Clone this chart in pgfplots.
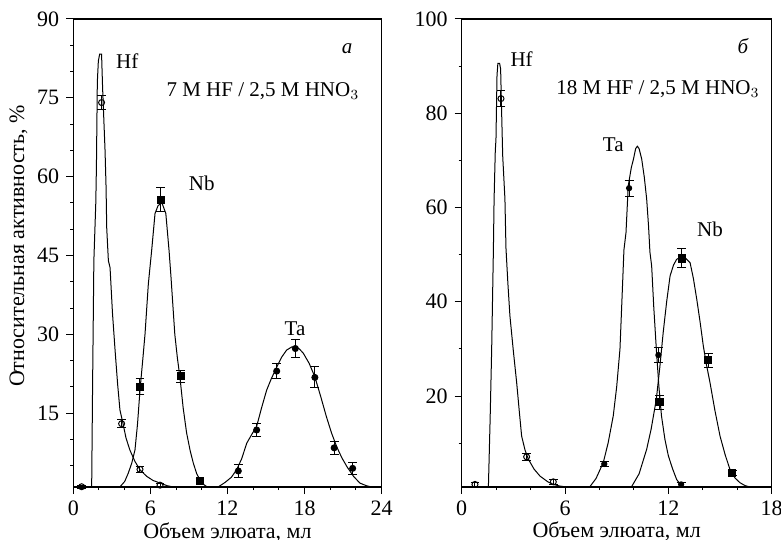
\documentclass[border=0pt]{standalone}
\usepackage{fontspec}
\setmainfont{Liberation Serif}
\usepackage{pgfplots}
\pgfplotsset{compat=1.18}

\tikzset{lab/.style={font=\fontsize{10.5}{12}\selectfont}}
\pgfplotsset{
  elu/.style={
    scale only axis,
    axis line style={line width=0.6pt},
    tick pos=left, tick align=outside,
    major tick length=3.5pt, minor tick length=1.6pt,
    every tick/.style={black, line width=0.5pt},
    tick label style={font=\fontsize{11}{13}\selectfont},
    /pgf/number format/assume math mode=true,
    label style={font=\fontsize{11}{13}\selectfont},
    xlabel style={at={(axis description cs:0.5,0)}, anchor=base, yshift=-25.5pt},
    clip=false,
  },
  curve/.style={black, line width=0.5pt, no marks},
  pts/.style={black, only marks, line width=0.5pt,
    error bars/y dir=both, error bars/y explicit,
    error bars/error bar style={line width=0.5pt},
    error bars/error mark options={rotate=90, mark size=2.2pt, line width=0.5pt}},
}

\begin{document}
\begin{tikzpicture}

% ---- panel a ----
\begin{axis}[elu, at={(0,0)}, anchor=south west,
    width=154.2pt, height=234pt,
    xmin=0, xmax=24, ymin=0.95, ymax=90,
    xtick={0,6,12,18,24}, minor xtick={2,4,8,10,14,16,20,22},
    ytick={15,30,45,60,75,90}, minor ytick={5,10,20,25,35,40,50,55,65,70,80,85},
    xlabel={Объем элюата, мл},
    ylabel={Относительная активность, \%},
    ylabel style={at={(axis description cs:-0.178,0.515)}, anchor=center},
]
% Hf
\addplot[curve] coordinates {
 (0,0.95)(1.3,0.95)(1.43,1)(1.5,20)(1.6,44)(1.75,55)(1.8,62)(1.87,78)(1.95,82)
 (2.05,83.3)(2.2,83.3)(2.28,76.9)(2.39,70)(2.47,65)(2.55,58)(2.6,50.3)(2.73,44)
 (2.86,42.7)(3.05,34)(3.25,27)(3.45,20.5)(3.63,15.6)(3.87,13)(4.1,10.3)(4.4,8)
 (4.8,5.8)(5.2,4.2)(5.7,3)(6.2,2.2)(6.75,1.7)(7.3,1.2)(7.8,0.95)};
% Nb
\addplot[curve] coordinates {
 (3.5,0.95)(3.64,1)(4.0,2)(4.28,3.6)(4.55,5.5)(4.8,8)(5.0,13)(5.19,19.4)(5.4,25)
 (5.58,30)(5.84,39.6)(6.1,46)(6.36,53)(6.6,54.5)(6.9,55)(7.2,53)(7.45,46)(7.6,41)
 (7.9,30)(8.1,25.5)(8.3,21.8)(8.55,16)(8.82,11.2)(9.1,7.8)(9.34,5.5)(9.6,3.5)
 (9.86,2.3)(10.1,1.5)(10.4,1)(10.6,0.95)};
% Ta
\addplot[curve] coordinates {
 (11.0,0.95)(11.3,1)(11.8,1.8)(12.3,2.8)(12.7,4.2)(13.1,6.3)(13.5,9.3)(13.9,11)
 (14.27,12.5)(14.65,16)(15.05,19.4)(15.4,21.5)(15.8,23.6)(16.2,25.6)(16.6,27)
 (17.0,27.6)(17.3,27.7)(17.6,27.2)(17.9,26.4)(18.35,24.5)(18.8,21.9)(19.25,18.2)
 (19.7,14.3)(20.1,11.2)(20.5,8.6)(20.9,6.5)(21.3,4.8)(21.8,3.0)(22.3,1.7)
 (22.8,1.2)(23.2,0.95)};
% points
\addplot[pts, mark=o, mark size=1.5pt] coordinates {
 (0.65,1)+-(0,0.3) (2.2,74.1)+-(0,1.4) (3.76,13.0)+-(0,0.8)
 (5.19,4.3)+-(0,0.5) (6.75,1.3)+-(0,0.3)};
\addplot[pts, mark=square*, mark size=1.8pt] coordinates {
 (5.19,20.0)+-(0,1.5) (6.8,55.6)+-(0,2.3) (8.36,22.0)+-(0,1.2) (9.86,2.1)+-(0,0.5)};
\addplot[pts, mark=*, mark size=1.5pt] coordinates {
 (12.84,4.0)+-(0,1.2) (14.27,11.8)+-(0,1.2) (15.83,23.0)+-(0,1.5)
 (17.28,27.3)+-(0,1.8) (18.8,21.8)+-(0,2) (20.3,8.4)+-(0,1.2) (21.74,4.5)+-(0,1.2)};
\node[lab] at (axis cs:4.2,82) {Hf};
\node[lab] at (axis cs:21.3,84.3) {\textit{а}};
\node[lab] at (axis cs:14.76,76.3) {7 M HF / 2,5 M HNO$_3$};
\node[lab] at (axis cs:10.0,58.7) {Nb};
\node[lab] at (axis cs:17.25,31.1) {Ta};
\end{axis}

% ---- panel b ----
\begin{axis}[elu, at={(194.2pt,0)}, anchor=south west,
    width=155pt, height=234pt,
    xmin=0, xmax=18, ymin=0.7, ymax=100,
    xtick={0,6,12,18}, minor xtick={2,4,8,10,14,16},
    ytick={20,40,60,80,100}, minor ytick={10,30,50,70,90},
    xlabel={Объем элюата, мл},
]
% Hf
\addplot[curve] coordinates {
 (0,0.7)(1.55,0.7)(1.65,15)(1.74,29.9)(1.84,51)(1.88,61.7)(1.95,72)(1.99,74.5)
 (2.05,88)(2.1,90.6)(2.2,90.6)(2.26,89.4)(2.32,80)(2.38,71)(2.51,61.8)(2.57,51.4)
 (2.68,44)(2.8,37)(3.0,29.5)(3.19,22.9)(3.35,16.5)(3.48,11.5)(3.68,8.5)(3.87,6.6)
 (4.2,4.5)(4.55,3)(5.0,1.8)(5.32,1.25)(5.7,0.9)(6.1,0.7)};
% Ta
\addplot[curve] coordinates {
 (7.3,0.7)(7.45,0.8)(7.8,2.5)(8.22,5.9)(8.5,10)(8.8,15.8)(9.0,22)(9.19,30)(9.3,40)
 (9.42,51)(9.54,54.7)(9.67,64.6)(9.85,68.5)(9.97,70.2)(10.1,72.5)(10.2,73)
 (10.3,72.5)(10.45,70.3)(10.6,66.5)(10.74,61.8)(10.85,56)(10.93,50.5)(11.03,47.6)
 (11.15,39)(11.3,30)(11.45,22)(11.6,15.8)(11.8,10.8)(12.0,7.3)(12.25,4.5)
 (12.48,2.3)(12.7,1.2)(12.86,0.7)};
% Nb
\addplot[curve] coordinates {
 (9.7,0.7)(9.87,0.8)(10.3,3.5)(10.74,8.7)(11.0,13)(11.3,19.3)(11.5,26)(11.7,33.5)
 (11.9,40)(12.1,45.5)(12.3,47.8)(12.48,49)(12.87,49.7)(13.26,48.3)(13.45,45)
 (13.65,40.5)(13.85,35.5)(14.03,30.6)(14.22,26.5)(14.42,22.8)(14.7,17)(15.0,11.5)
 (15.3,7.5)(15.58,4.4)(15.87,2.6)(16.16,1.6)(16.45,1)(16.74,0.7)};
% points
\addplot[pts, mark=o, mark size=1.5pt] coordinates {
 (0.77,1.25)+-(0,0.5) (2.28,83.1)+-(0,1.7) (3.77,7.1)+-(0,0.7) (5.32,1.8)+-(0,0.5)};
\addplot[pts, mark=*, mark size=1.3pt] coordinates {
 (8.28,5.6)+-(0,0.5) (9.72,64.1)+-(0,1.7) (11.42,28.7)+-(0,1.5) (12.74,1.25)+-(0,0.4)};
\addplot[pts, mark=square*, mark size=1.8pt] coordinates {
 (11.48,18.7)+-(0,1.5) (12.78,49.2)+-(0,2) (14.32,27.6)+-(0,1.5) (15.71,3.7)+-(0,0.5)};
\node[lab] at (axis cs:3.48,91.5) {Hf};
\node[lab] at (axis cs:16.35,94.3) {\textit{б}};
\node[lab] at (axis cs:11.4,85.1) {18 M HF / 2,5 M HNO$_3$};
\node[lab] at (axis cs:8.8,73.4) {Ta};
\node[lab] at (axis cs:14.42,55.4) {Nb};
\end{axis}

\pgfresetboundingbox
\useasboundingbox (-36.65pt,-26.5pt) rectangle (353.85pt,243.5pt);
\end{tikzpicture}
\end{document}
